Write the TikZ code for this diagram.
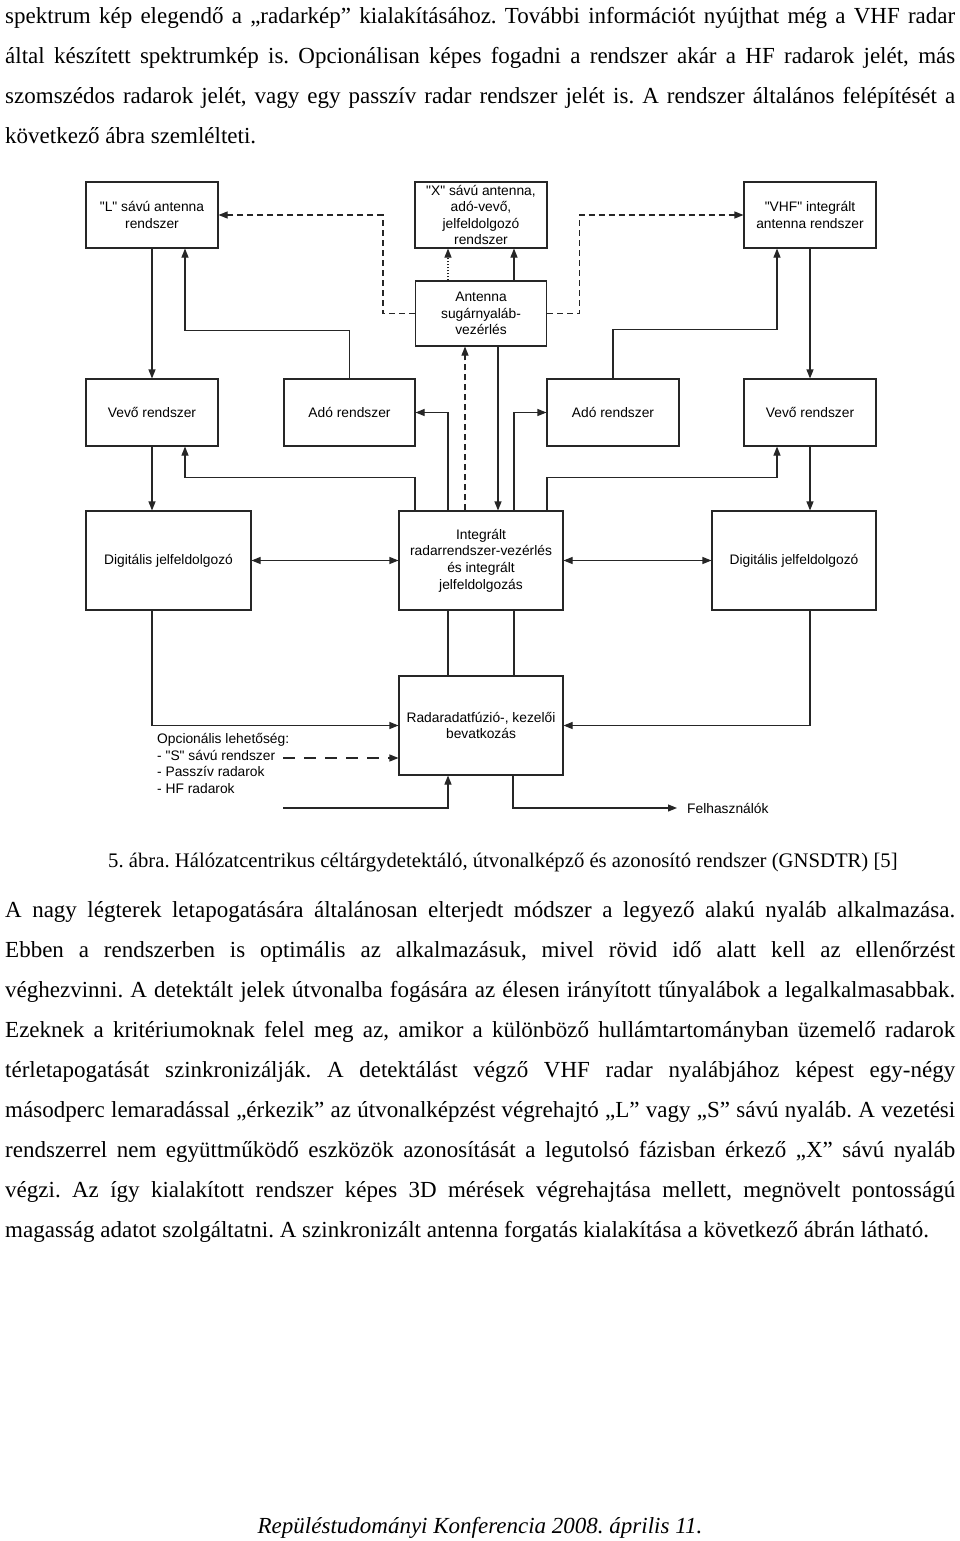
\documentclass[tikz,border=0pt]{standalone}
\usepackage{fontspec}
\setmainfont{Liberation Serif}
\newfontfamily\arialf{Liberation Sans}
\usetikzlibrary{arrows.meta}
\newcommand{\dfont}{\arialf\fontsize{13.8}{16.6}\selectfont}
\newcommand{\bfont}{\frenchspacing\fontsize{23}{26}\selectfont}
\newcommand{\cfont}{\frenchspacing\fontsize{20.7}{24}\selectfont}
\newcommand{\jl}[1]{\hbox to 950pt{#1}}
\begin{document}
\begin{tikzpicture}[x=1pt,y=-1pt,
 box/.style={draw=black!85, line width=1.1pt, inner sep=1pt, align=center, font=\dfont},
 conn/.style={draw=black!85, line width=1.1pt},
 arr/.style={conn, -{Triangle[length=9pt,width=7pt]}},
 darr/.style={conn, {Triangle[length=9pt,width=7pt]}-{Triangle[length=9pt,width=7pt]}},
 dsh/.style={dash pattern=on 6pt off 4pt},
 ldsh/.style={dash pattern=on 12pt off 9pt},
 dtt/.style={dash pattern=on 1.2pt off 1.8pt},
 txt/.style={anchor=base west, inner sep=0pt, font=\bfont},
]
\useasboundingbox[fill=white] (0,0) rectangle (960,1541);

% body text top
\node[txt] (t1) at (5,24) {\jl{spektrum kép elegendő a „radarkép” kialakításához. További információt nyújthat még a VHF radar}};
\node[txt] (t2) at (5,64) {\jl{által készített spektrumkép is. Opcionálisan képes fogadni a rendszer akár a HF radarok jelét, más}};
\node[txt] (t3) at (5,104) {\jl{szomszédos radarok jelét, vagy egy passzív radar rendszer jelét is. A rendszer általános felépítését a}};
\node[txt] (t4) at (5,144) {következő ábra szemlélteti.};

% boxes
\node[box, minimum width=132, minimum height=66] (L) at (152,215) {"L" sávú antenna\\rendszer};
\node[box, minimum width=132, minimum height=66] (X) at (481,215) {"X" sávú antenna,\\adó-vevő,\\jelfeldolgozó\\rendszer};
\node[box, minimum width=132, minimum height=66] (VHF) at (810,215) {"VHF" integrált\\antenna rendszer};
\node[box, minimum width=131, minimum height=65] (Ant) at (481,313.5) {Antenna\\sugárnyaláb-\\vezérlés};
\node[box, minimum width=132, minimum height=67] (VL) at (152,412.5) {Vevő rendszer};
\node[box, minimum width=131, minimum height=67] (AL) at (349.5,412.5) {Adó rendszer};
\node[box, minimum width=132, minimum height=67] (AR) at (613,412.5) {Adó rendszer};
\node[box, minimum width=132, minimum height=67] (VR) at (810,412.5) {Vevő rendszer};
\node[box, minimum width=165, minimum height=99] (DL) at (168.5,560.5) {Digitális jelfeldolgozó};
\node[box, minimum width=164, minimum height=99] (I) at (481,560.5) {Integrált\\radarrendszer-vezérlés\\és integrált\\jelfeldolgozás};
\node[box, minimum width=164, minimum height=99] (DR) at (794,560.5) {Digitális jelfeldolgozó};
\node[box, minimum width=164, minimum height=99] (R) at (481,725.5) {Radaradatfúzió-, kezelői\\bevatkozás};

\node[font=\dfont, align=left, inner sep=0pt, anchor=west] (opt) at (157,763.5) {Opcionális lehetőség:\\- "S" sávú rendszer\\- Passzív radarok\\- HF radarok};
\node[font=\dfont, inner sep=0pt, anchor=west] (felh) at (687,808) {Felhasználók};
\coordinate (sS) at (283,758);
\coordinate (hf) at (283,808);

% connectors
\draw[arr] (L.south) -- (VL.north);
\draw[arr] (AL.north) -- ++(0,-48) -| ([xshift=33]L.south);
\draw[arr,dsh] (Ant.west) -- ++(-32,0) |- (L.east);
\draw[arr,dsh] (Ant.east) -- ++(32,0) |- (VHF.west);
\draw[arr,dtt] ([xshift=-33]Ant.north) -- ([xshift=-33]X.south);
\draw[arr] ([xshift=33]Ant.north) -- ([xshift=33]X.south);
\draw[arr] (AR.north) -- ++(0,-49) -| ([xshift=-33]VHF.south);
\draw[arr] (VHF.south) -- (VR.north);
\draw[arr,dsh] ([xshift=-16]I.north) -- ([xshift=-16]Ant.south);
\draw[arr] ([xshift=17]Ant.south) -- ([xshift=17]I.north);
\draw[arr] ([xshift=-33]I.north) |- (AL.east);
\draw[arr] ([xshift=33]I.north) |- (AR.west);
\draw[arr] ([xshift=-66]I.north) -- ++(0,-33) -| ([xshift=33]VL.south);
\draw[arr] ([xshift=66]I.north) -- ++(0,-33) -| ([xshift=-33]VR.south);
\draw[arr] (VL.south) -- (VL.south |- DL.north);
\draw[arr] (VR.south) -- (VR.south |- DR.north);
\draw[darr] (DL.east) -- (I.west);
\draw[darr] (I.east) -- (DR.west);
\draw[arr] (VL.south |- DL.south) |- (R.west);
\draw[arr] (VR.south |- DR.south) |- (R.east);
\draw[conn] ([xshift=-33]I.south) -- ([xshift=-33]R.north);
\draw[conn] ([xshift=33]I.south) -- ([xshift=33]R.north);
\draw[arr,ldsh] (sS) -- (sS -| R.west);
\draw[arr] (hf) -| ([xshift=-33]R.south);
\draw[arr] ([xshift=32]R.south) |- ([xshift=-10]felh.west);

% caption and body
\node[anchor=base west, inner sep=0pt, font=\cfont] (cap) at (108,867) {5. ábra. Hálózatcentrikus céltárgydetektáló, útvonalképző és azonosító rendszer (GNSDTR) [5]};
\node[txt] (p1) at (5,917) {\jl{A nagy légterek letapogatására általánosan elterjedt módszer a legyező alakú nyaláb alkalmazása.}};
\node[txt] (p2) at (5,957) {\jl{Ebben a rendszerben is optimális az alkalmazásuk, mivel rövid idő alatt kell az ellenőrzést}};
\node[txt] (p3) at (5,997) {\jl{véghezvinni. A detektált jelek útvonalba fogására az élesen irányított tűnyalábok a legalkalmasabbak.}};
\node[txt] (p4) at (5,1037) {\jl{Ezeknek a kritériumoknak felel meg az, amikor a különböző hullámtartományban üzemelő radarok}};
\node[txt] (p5) at (5,1077) {\jl{térletapogatását szinkronizálják. A detektálást végző VHF radar nyalábjához képest egy-négy}};
\node[txt] (p6) at (5,1117) {\jl{másodperc lemaradással „érkezik” az útvonalképzést végrehajtó „L” vagy „S” sávú nyaláb. A vezetési}};
\node[txt] (p7) at (5,1157) {\jl{rendszerrel nem együttműködő eszközök azonosítását a legutolsó fázisban érkező „X” sávú nyaláb}};
\node[txt] (p8) at (5,1197) {\jl{végzi. Az így kialakított rendszer képes 3D mérések végrehajtása mellett, megnövelt pontosságú}};
\node[txt] (p9) at (5,1237) {magasság adatot szolgáltatni. A szinkronizált antenna forgatás kialakítása a következő ábrán látható.};
\node[anchor=base, inner sep=0pt, font=\bfont\itshape] (foot) at (480,1533) {Repüléstudományi Konferencia 2008. április 11.};
\end{tikzpicture}
\end{document}
